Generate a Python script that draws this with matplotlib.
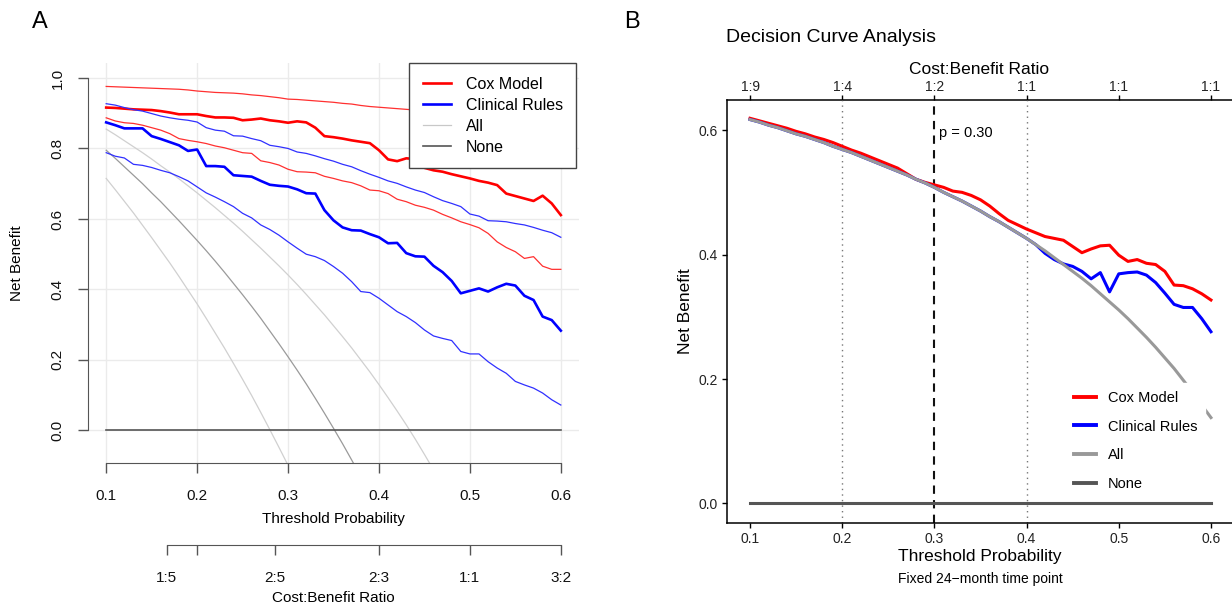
import matplotlib
matplotlib.use("Agg")
import matplotlib.pyplot as plt
from matplotlib.lines import Line2D

plt.rcParams['font.family'] = ['Liberation Sans', 'DejaVu Sans']

# threshold probabilities (0.10 ... 0.60 by 0.01)
threshold = [0.10, 0.11, 0.12, 0.13, 0.14, 0.15, 0.16, 0.17, 0.18, 0.19,
             0.20, 0.21, 0.22, 0.23, 0.24, 0.25, 0.26, 0.27, 0.28, 0.29,
             0.30, 0.31, 0.32, 0.33, 0.34, 0.35, 0.36, 0.37, 0.38, 0.39,
             0.40, 0.41, 0.42, 0.43, 0.44, 0.45, 0.46, 0.47, 0.48, 0.49,
             0.50, 0.51, 0.52, 0.53, 0.54, 0.55, 0.56, 0.57, 0.58, 0.59,
             0.60]

# ---- panel A: net benefit with bounds ----
cox_a = [0.916, 0.915, 0.913, 0.911, 0.910, 0.909, 0.906, 0.902, 0.897, 0.897,
         0.897, 0.892, 0.888, 0.888, 0.887, 0.880, 0.882, 0.885, 0.880, 0.877,
         0.873, 0.877, 0.874, 0.859, 0.835, 0.832, 0.828, 0.823, 0.819, 0.815,
         0.795, 0.769, 0.764, 0.772, 0.770, 0.745, 0.738, 0.734, 0.727, 0.721,
         0.715, 0.708, 0.703, 0.696, 0.672, 0.665, 0.658, 0.651, 0.666, 0.644,
         0.611]
cox_a_hi = [0.976, 0.975, 0.974, 0.973, 0.972, 0.971, 0.970, 0.969, 0.968, 0.966,
            0.963, 0.961, 0.959, 0.958, 0.957, 0.955, 0.952, 0.950, 0.947, 0.944,
            0.940, 0.939, 0.937, 0.935, 0.933, 0.931, 0.928, 0.926, 0.922, 0.919,
            0.917, 0.915, 0.913, 0.911, 0.909, 0.906, 0.904, 0.901, 0.899, 0.897,
            0.895, 0.893, 0.890, 0.888, 0.886, 0.884, 0.881, 0.879, 0.877, 0.875,
            0.873]
cox_a_lo = [0.887, 0.878, 0.873, 0.871, 0.866, 0.859, 0.852, 0.842, 0.828, 0.823,
            0.819, 0.814, 0.807, 0.802, 0.795, 0.788, 0.786, 0.765, 0.760, 0.753,
            0.741, 0.734, 0.733, 0.731, 0.721, 0.715, 0.708, 0.703, 0.694, 0.682,
            0.680, 0.672, 0.656, 0.649, 0.639, 0.633, 0.625, 0.613, 0.603, 0.592,
            0.584, 0.575, 0.559, 0.535, 0.519, 0.507, 0.488, 0.493, 0.466, 0.457,
            0.457]
rules_a = [0.874, 0.866, 0.857, 0.857, 0.857, 0.835, 0.827, 0.818, 0.809, 0.793,
           0.797, 0.750, 0.750, 0.748, 0.724, 0.722, 0.720, 0.708, 0.697, 0.694,
           0.692, 0.684, 0.673, 0.672, 0.625, 0.596, 0.576, 0.568, 0.567, 0.557,
           0.548, 0.531, 0.532, 0.503, 0.494, 0.493, 0.467, 0.449, 0.424, 0.389,
           0.396, 0.403, 0.394, 0.406, 0.416, 0.411, 0.382, 0.370, 0.323, 0.313,
           0.283]
rules_a_hi = [0.927, 0.923, 0.916, 0.910, 0.906, 0.899, 0.892, 0.887, 0.883, 0.880,
              0.875, 0.859, 0.852, 0.849, 0.836, 0.835, 0.828, 0.822, 0.809, 0.805,
              0.800, 0.790, 0.786, 0.779, 0.771, 0.764, 0.755, 0.748, 0.737, 0.727,
              0.718, 0.708, 0.701, 0.691, 0.682, 0.675, 0.663, 0.652, 0.644, 0.635,
              0.614, 0.608, 0.595, 0.594, 0.592, 0.587, 0.583, 0.576, 0.568, 0.561,
              0.548]
rules_a_lo = [0.788, 0.778, 0.773, 0.755, 0.752, 0.746, 0.738, 0.731, 0.720, 0.708,
              0.691, 0.674, 0.662, 0.649, 0.635, 0.616, 0.603, 0.583, 0.570, 0.554,
              0.535, 0.517, 0.500, 0.493, 0.482, 0.465, 0.446, 0.422, 0.394, 0.391,
              0.375, 0.356, 0.337, 0.323, 0.306, 0.285, 0.268, 0.261, 0.255, 0.224,
              0.217, 0.217, 0.195, 0.177, 0.162, 0.139, 0.129, 0.120, 0.106, 0.087,
              0.072]
# treat-all curves (only the part above the lower axis is visible)
all_a = [0.795, 0.772, 0.748, 0.724, 0.700, 0.674, 0.649, 0.622, 0.595, 0.567,
         0.539, 0.510, 0.480, 0.449, 0.417, 0.385, 0.352, 0.318, 0.282, 0.246,
         0.209, 0.171, 0.132, 0.091, 0.049, 0.006, -0.038, -0.084, -0.131]
all_a_hi = [0.855, 0.839, 0.822, 0.805, 0.788, 0.770, 0.751, 0.733, 0.714, 0.694,
            0.674, 0.653, 0.632, 0.610, 0.588, 0.565, 0.541, 0.517, 0.492, 0.467,
            0.441, 0.414, 0.386, 0.357, 0.328, 0.297, 0.266, 0.234, 0.200, 0.166,
            0.130, 0.093, 0.055, 0.016, -0.025, -0.068, -0.112]
all_a_lo = [0.715, 0.683, 0.650, 0.617, 0.582, 0.547, 0.511, 0.475, 0.437, 0.398,
            0.359, 0.318, 0.276, 0.234, 0.190, 0.145, 0.099, 0.051, 0.002, -0.048,
            -0.099]

cb_ticks_a = [1 / 6, 0.2, 2 / 7, 0.4, 0.5, 0.6]
cb_labels_a = ['1:5', '', '2:5', '2:3', '1:1', '3:2']

# ---- panel B: decision curve at 24 months ----
cox_b = [0.619, 0.615, 0.611, 0.607, 0.603, 0.598, 0.594, 0.589, 0.585, 0.580,
         0.574, 0.568, 0.563, 0.557, 0.551, 0.545, 0.539, 0.530, 0.521, 0.516,
         0.512, 0.508, 0.502, 0.500, 0.495, 0.488, 0.478, 0.466, 0.455, 0.448,
         0.441, 0.435, 0.429, 0.426, 0.423, 0.413, 0.403, 0.409, 0.414, 0.415,
         0.399, 0.389, 0.392, 0.386, 0.384, 0.373, 0.351, 0.350, 0.345, 0.337,
         0.327]
rules_b = [0.617, 0.613, 0.608, 0.604, 0.599, 0.594, 0.590, 0.585, 0.580, 0.574,
           0.569, 0.564, 0.558, 0.552, 0.546, 0.540, 0.534, 0.528, 0.521, 0.515,
           0.508, 0.500, 0.493, 0.486, 0.478, 0.470, 0.461, 0.453, 0.444, 0.435,
           0.426, 0.416, 0.402, 0.392, 0.385, 0.381, 0.373, 0.361, 0.371, 0.340,
           0.369, 0.371, 0.372, 0.367, 0.355, 0.338, 0.320, 0.315, 0.315, 0.297,
           0.276]
all_b = [0.617, 0.613, 0.608, 0.604, 0.599, 0.594, 0.590, 0.585, 0.580, 0.574,
         0.569, 0.564, 0.558, 0.552, 0.546, 0.540, 0.534, 0.528, 0.521, 0.515,
         0.508, 0.500, 0.493, 0.486, 0.478, 0.470, 0.461, 0.453, 0.444, 0.435,
         0.426, 0.416, 0.406, 0.395, 0.384, 0.373, 0.362, 0.350, 0.337, 0.324,
         0.311, 0.297, 0.282, 0.267, 0.251, 0.234, 0.217, 0.198, 0.179, 0.158,
         0.138]
cb_labels_b = ['1:9', '1:4', '1:2', '1:1', '1:1', '1:1']

prob_ticks = [0.1, 0.2, 0.3, 0.4, 0.5, 0.6]
W, H = 1232, 609


def fx(px):
    return px / W


def fy(py):
    return 1 - py / H


fig = plt.figure(figsize=(W / 100, H / 100), dpi=100)

# ================= panel A =================
ax = fig.add_axes([fx(88), fy(463), (579 - 88) / W, (463 - 63) / H])
ax.set_xlim(0.08, 0.62)
ax.set_ylim(-0.0925, 1.0425)
ax.set_xticks(prob_ticks, ['0.1', '0.2', '0.3', '0.4', '0.5', '0.6'])
ax.set_yticks([0.0, 0.2, 0.4, 0.6, 0.8, 1.0], ['0.0', '0.2', '0.4', '0.6', '0.8', '1.0'])
ax.grid(True, color='#ebebeb', lw=1)
ax.set_axisbelow(True)
for s in ['top', 'right']:
    ax.spines[s].set_visible(False)
ax.spines['left'].set_bounds(0, 1)
ax.spines['bottom'].set_bounds(0.1, 0.6)
for s in ['left', 'bottom']:
    ax.spines[s].set_color('#555555')
ax.tick_params(direction='out', length=7, width=1, color='#555555', labelsize=11,
               pad=12, labelcolor='#111111')
ax.tick_params(axis='y', labelrotation=90, pad=10)
for lab in ax.get_yticklabels():
    lab.set_va('center')

n = len(all_a_lo)
ax.plot(threshold[:n], all_a_lo, color='#d0d0d0', lw=0.9)
n = len(all_a_hi)
ax.plot(threshold[:n], all_a_hi, color='#d0d0d0', lw=0.9)
n = len(all_a)
ax.plot(threshold[:n], all_a, color='#9a9a9a', lw=0.9)
ax.plot(threshold, cox_a_hi, color='#ff3030', lw=0.9)
ax.plot(threshold, cox_a_lo, color='#ff3030', lw=0.9)
ax.plot(threshold, cox_a, color='#ff0000', lw=1.9)
ax.plot(threshold, rules_a_hi, color='#3030ff', lw=0.9)
ax.plot(threshold, rules_a_lo, color='#3030ff', lw=0.9)
ax.plot(threshold, rules_a, color='#0000ff', lw=1.9)
ax.plot([0.1, 0.6], [0, 0], color='#555555', lw=1.2)

handles_a = [Line2D([], [], color='#ff0000', lw=1.9),
             Line2D([], [], color='#0000ff', lw=1.9),
             Line2D([], [], color='#c8c8c8', lw=0.9),
             Line2D([], [], color='#555555', lw=1.2)]
leg = ax.legend(handles_a, ['Cox Model', 'Clinical Rules', 'All', 'None'],
                loc='upper left', bbox_to_anchor=(fx(409), fy(63)),
                bbox_transform=fig.transFigure, borderaxespad=0, fontsize=11.5,
                fancybox=False, framealpha=1, edgecolor='#444444',
                handlelength=1.8, handletextpad=0.9, labelspacing=0.38,
                borderpad=0.85)
leg.get_frame().set_linewidth(1)

sec = ax.secondary_xaxis(-0.205)
sec.set_xticks(cb_ticks_a, cb_labels_a)
sec.spines['bottom'].set_bounds(1 / 6, 0.6)
sec.spines['bottom'].set_color('#555555')
sec.tick_params(direction='out', length=7, width=1, color='#555555', labelsize=11,
                pad=12, labelcolor='#111111')

fig.text(fx(333), fy(519), 'Threshold Probability', ha='center', va='center', fontsize=11)
fig.text(fx(333), fy(598), 'Cost:Benefit Ratio', ha='center', va='center', fontsize=11)
fig.text(fx(17), fy(263), 'Net Benefit', ha='center', va='center', rotation=90, fontsize=11)
fig.text(fx(40), fy(22), 'A', ha='center', va='center', fontsize=17)

# ================= panel B =================
bx = fig.add_axes([fx(727), fy(522.7), (1234 - 727) / W, (522.7 - 100) / H])
bx.set_xlim(0.075, 0.625)
bx.set_ylim(-0.0309, 0.6484)
bx.set_xticks(prob_ticks, ['0.1', '0.2', '0.3', '0.4', '0.5', '0.6'])
bx.set_yticks([0.0, 0.2, 0.4, 0.6], ['0.0', '0.2', '0.4', '0.6'])
bx.spines['right'].set_visible(False)
bx.spines['top'].set_visible(False)
for s in ['left', 'bottom']:
    bx.spines[s].set_linewidth(1.1)
bx.tick_params(direction='out', length=3.6, width=1, labelsize=10, pad=3,
               labelcolor='#222222')

bx.axvline(0.2, color='#777777', lw=1, ls=(0, (1, 3)))
bx.axvline(0.4, color='#777777', lw=1, ls=(0, (1, 3)))
bx.axvline(0.3, color='#111111', lw=1.5, ls=(0, (4, 3)))
bx.text(0.3055, 0.596, 'p = 0.30', ha='left', va='center', fontsize=10.5)

bx.plot(threshold, cox_b, color='#ff0000', lw=2.2, zorder=3)
bx.plot(threshold, rules_b, color='#0000ff', lw=2.2, zorder=3)
bx.plot(threshold, all_b, color='#999999', lw=2.2, zorder=3)
bx.plot([0.1, 0.6], [0, 0], color='#555555', lw=2.2, zorder=3)

top = bx.secondary_xaxis('top')
top.set_xticks(prob_ticks, cb_labels_b)
top.spines['top'].set_linewidth(1.1)
top.tick_params(direction='out', length=3.6, width=1, labelsize=10, pad=1,
                labelcolor='#222222')

handles_b = [Line2D([], [], color='#ff0000', lw=2.8),
             Line2D([], [], color='#0000ff', lw=2.8),
             Line2D([], [], color='#999999', lw=2.8),
             Line2D([], [], color='#555555', lw=2.8)]
legb = bx.legend(handles_b, ['Cox Model', 'Clinical Rules', 'All', 'None'],
                 loc='upper left', bbox_to_anchor=(fx(1066), fy(383)),
                 bbox_transform=fig.transFigure, borderaxespad=0, fontsize=10.5,
                 fancybox=False, framealpha=1, edgecolor='white', facecolor='white',
                 handlelength=1.5, handletextpad=0.8, labelspacing=1.0,
                 borderpad=0.55)
legb.set_zorder(5)

fig.text(fx(980), fy(556), 'Threshold Probability', ha='center', va='center', fontsize=12.5)
fig.text(fx(980), fy(579), 'Fixed 24\u2212month time point', ha='center', va='center', fontsize=10)
fig.text(fx(979), fy(69), 'Cost:Benefit Ratio', ha='center', va='center', fontsize=12.5)
fig.text(fx(686), fy(311), 'Net Benefit', ha='center', va='center', rotation=90, fontsize=12.5)
fig.text(fx(726), fy(38), 'Decision Curve Analysis', ha='left', va='center', fontsize=14)
fig.text(fx(632), fy(22), 'B', ha='center', va='center', fontsize=17)

fig.savefig('out.png', dpi=100)
